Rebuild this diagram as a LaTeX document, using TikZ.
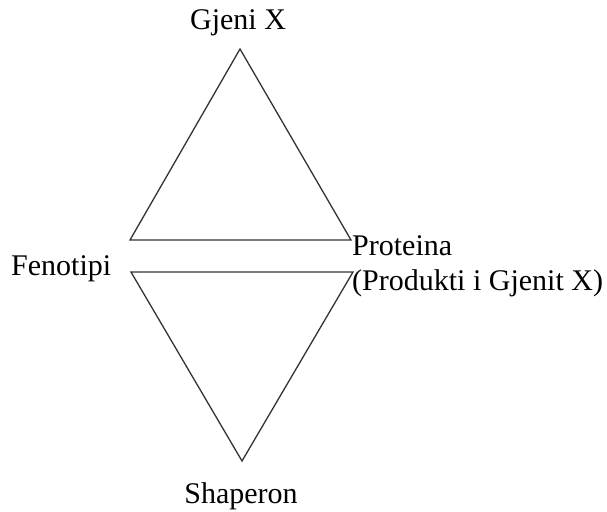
\documentclass[tikz,border=0pt]{standalone}
\usepackage{fontspec}
\setmainfont{Liberation Serif}
\begin{document}
\begin{tikzpicture}[x=1pt,y=-1pt,
  tri/.style={draw=black!80,line width=1.3pt,line join=miter},
  lbl/.style={inner sep=0pt,font=\fontsize{30}{35}\selectfont,text=black}]
\useasboundingbox (0,0) rectangle (607,511);
% upper triangle
\coordinate (ua) at (240,49);
\coordinate (ul) at (130,240);
\coordinate (ur) at (351,240);
\draw[tri] (ua) -- (ul) -- (ur) -- cycle;
% lower triangle
\coordinate (ll) at (131,272);
\coordinate (lr) at (353,272);
\coordinate (la) at (242,461);
\draw[tri] (ll) -- (lr) -- (la) -- cycle;
% labels
\node[lbl,anchor=base] (gjeni) at (238,30) {Gjeni X};
\node[lbl,anchor=base west] (prot) at (352,255) {Proteina};
\node[lbl,anchor=base west] (prod) at (352,290) {(Produkti i Gjenit X)};
\node[lbl,anchor=base west] (feno) at (11,275) {Fenotipi};
\node[lbl,anchor=base] (shap) at (241,503) {Shaperon};
\end{tikzpicture}
\end{document}
